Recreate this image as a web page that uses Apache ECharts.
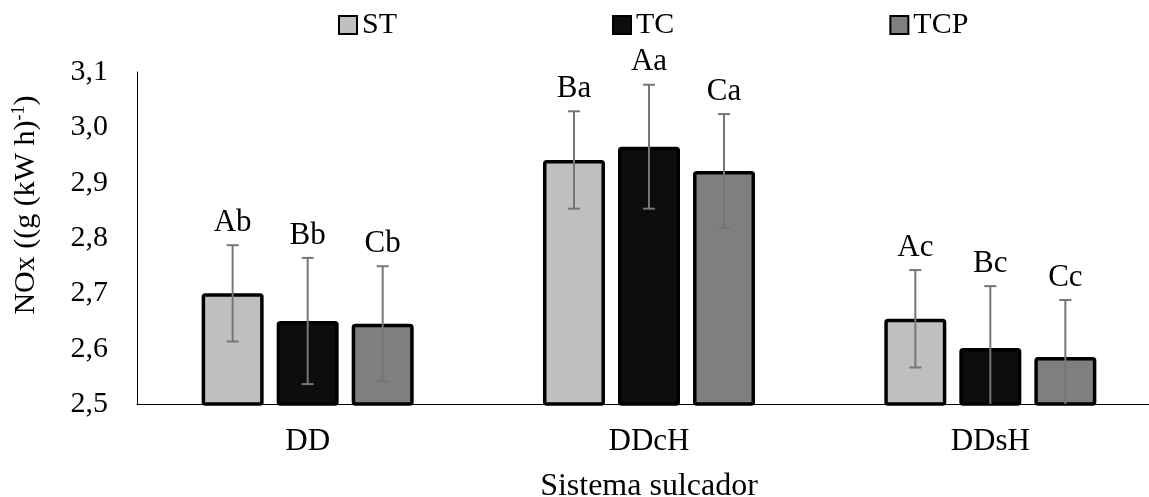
<!DOCTYPE html>
<html>
<head>
<meta charset="utf-8">
<script src="https://cdn.jsdelivr.net/npm/echarts@6/dist/echarts.min.js"></script>
<style>html,body{margin:0;padding:0;background:#fff;}#c{width:1149px;height:497px;}</style>
</head>
<body>
<div id="c"></div>
<script>
const categories = ['DD', 'DDcH', 'DDsH'];
const seriesNames = ['ST', 'TC', 'TCP'];
const stValues = [2.700, 2.941, 2.654];
const tcValues = [2.650, 2.965, 2.601];
const tcpValues = [2.645, 2.921, 2.585];
const stErrors = [0.087, 0.088, 0.088];
const tcErrors = [0.114, 0.112, 0.112];
const tcpErrors = [0.104, 0.103, 0.103];
const stLetters = ['Ab', 'Ba', 'Ac'];
const tcLetters = ['Bb', 'Aa', 'Bc'];
const tcpLetters = ['Cb', 'Ca', 'Cc'];
const yMin = 2.5, yMax = 3.1, yStep = 0.1;
const xTitle = 'Sistema sulcador';

const FONT = 'Liberation Serif';
const colors = ['#bfbfbf', '#0d0d0d', '#7f7f7f'];
const BAR_W = 62;
const BAR_GAP = 0.21;
const values = [stValues, tcValues, tcpValues];
const errors = [stErrors, tcErrors, tcpErrors];
const letters = [stLetters, tcLetters, tcpLetters];

function offsetFor(i) {
  return (i - 1) * BAR_W * (1 + BAR_GAP);
}

const series = [];
values.forEach((vals, i) => {
  series.push({
    name: seriesNames[i],
    type: 'bar',
    data: vals,
    barWidth: BAR_W,
    barGap: (BAR_GAP * 100) + '%',
    clip: true,
    itemStyle: { color: colors[i], borderColor: '#000', borderWidth: 3.5, borderRadius: 2 },
    z: 2
  });
});
values.forEach((vals, i) => {
  const errData = vals.map((v, k) => [k, v - errors[i][k], v + errors[i][k]]);
  series.push({
    name: seriesNames[i] + ' err',
    type: 'custom',
    clip: true,
    z: 3,
    data: errData,
    encode: { x: 0, y: [1, 2] },
    renderItem: function (params, api) {
      const k = api.value(0);
      const lo = api.coord([k, api.value(1)]);
      const hi = api.coord([k, api.value(2)]);
      const cx = lo[0] + offsetFor(i);
      const st = { stroke: '#767676', lineWidth: 2 };
      return {
        type: 'group',
        children: [
          { type: 'line', shape: { x1: cx, y1: lo[1], x2: cx, y2: hi[1] }, style: st },
          { type: 'line', shape: { x1: cx - 6, y1: hi[1], x2: cx + 6, y2: hi[1] }, style: st },
          { type: 'line', shape: { x1: cx - 6, y1: lo[1], x2: cx + 6, y2: lo[1] }, style: st }
        ]
      };
    }
  });
  const labData = vals.map((v, k) => [k, v + errors[i][k], letters[i][k]]);
  series.push({
    name: seriesNames[i] + ' lab',
    type: 'custom',
    clip: false,
    z: 4,
    data: labData,
    encode: { x: 0, y: 1 },
    renderItem: function (params, api) {
      const k = api.value(0);
      const hi = api.coord([k, api.value(1)]);
      const cx = hi[0] + offsetFor(i);
      return {
        type: 'text',
        style: {
          x: cx, y: hi[1] - 7, text: letters[i][params.dataIndex],
          align: 'center', verticalAlign: 'bottom',
          fill: '#000', font: '31px "' + FONT + '"'
        }
      };
    }
  });
});

const chart = echarts.init(document.getElementById('c'), null, { renderer: 'canvas' });
chart.setOption({
  animation: false,
  backgroundColor: '#fff',
  textStyle: { fontFamily: FONT, color: '#000' },
  legend: {
    data: seriesNames,
    top: 5,
    left: 333,
    itemGap: 215,
    itemWidth: 18,
    itemHeight: 18,
    icon: 'rect',
    textStyle: { fontFamily: FONT, fontSize: 30, color: '#000' }
  },
  grid: { left: 137, right: -12, top: 72, bottom: 93, containLabel: false, outerBoundsMode: 'none' },
  xAxis: {
    type: 'category',
    data: categories,
    axisLine: { lineStyle: { color: '#000', width: 1 } },
    axisTick: { show: false },
    axisLabel: { fontFamily: FONT, fontSize: 31, color: '#000', margin: 22 },
    name: xTitle,
    nameLocation: 'middle',
    nameGap: 67,
    nameTextStyle: { fontFamily: FONT, fontSize: 32, color: '#000' }
  },
  yAxis: {
    type: 'value',
    min: yMin, max: yMax, interval: yStep,
    axisLine: { show: true, lineStyle: { color: '#000', width: 1 } },
    axisTick: { show: false },
    splitLine: { show: false },
    axisLabel: {
      fontFamily: FONT, fontSize: 30, color: '#000', margin: 29,
      formatter: v => v.toFixed(1).replace('.', ',')
    },
    name: 'NOx ((g (kW h){sup|-1})',
    nameLocation: 'middle',
    nameGap: 95,
    nameTextStyle: {
      fontFamily: FONT, fontSize: 30, color: '#000',
      padding: [0, 0, 0, 66],
      rich: { sup: { fontFamily: FONT, fontSize: 18, verticalAlign: 'top', padding: [0, 0, 14, 0] } }
    }
  },
  series: series
});
</script>
</body>
</html>
